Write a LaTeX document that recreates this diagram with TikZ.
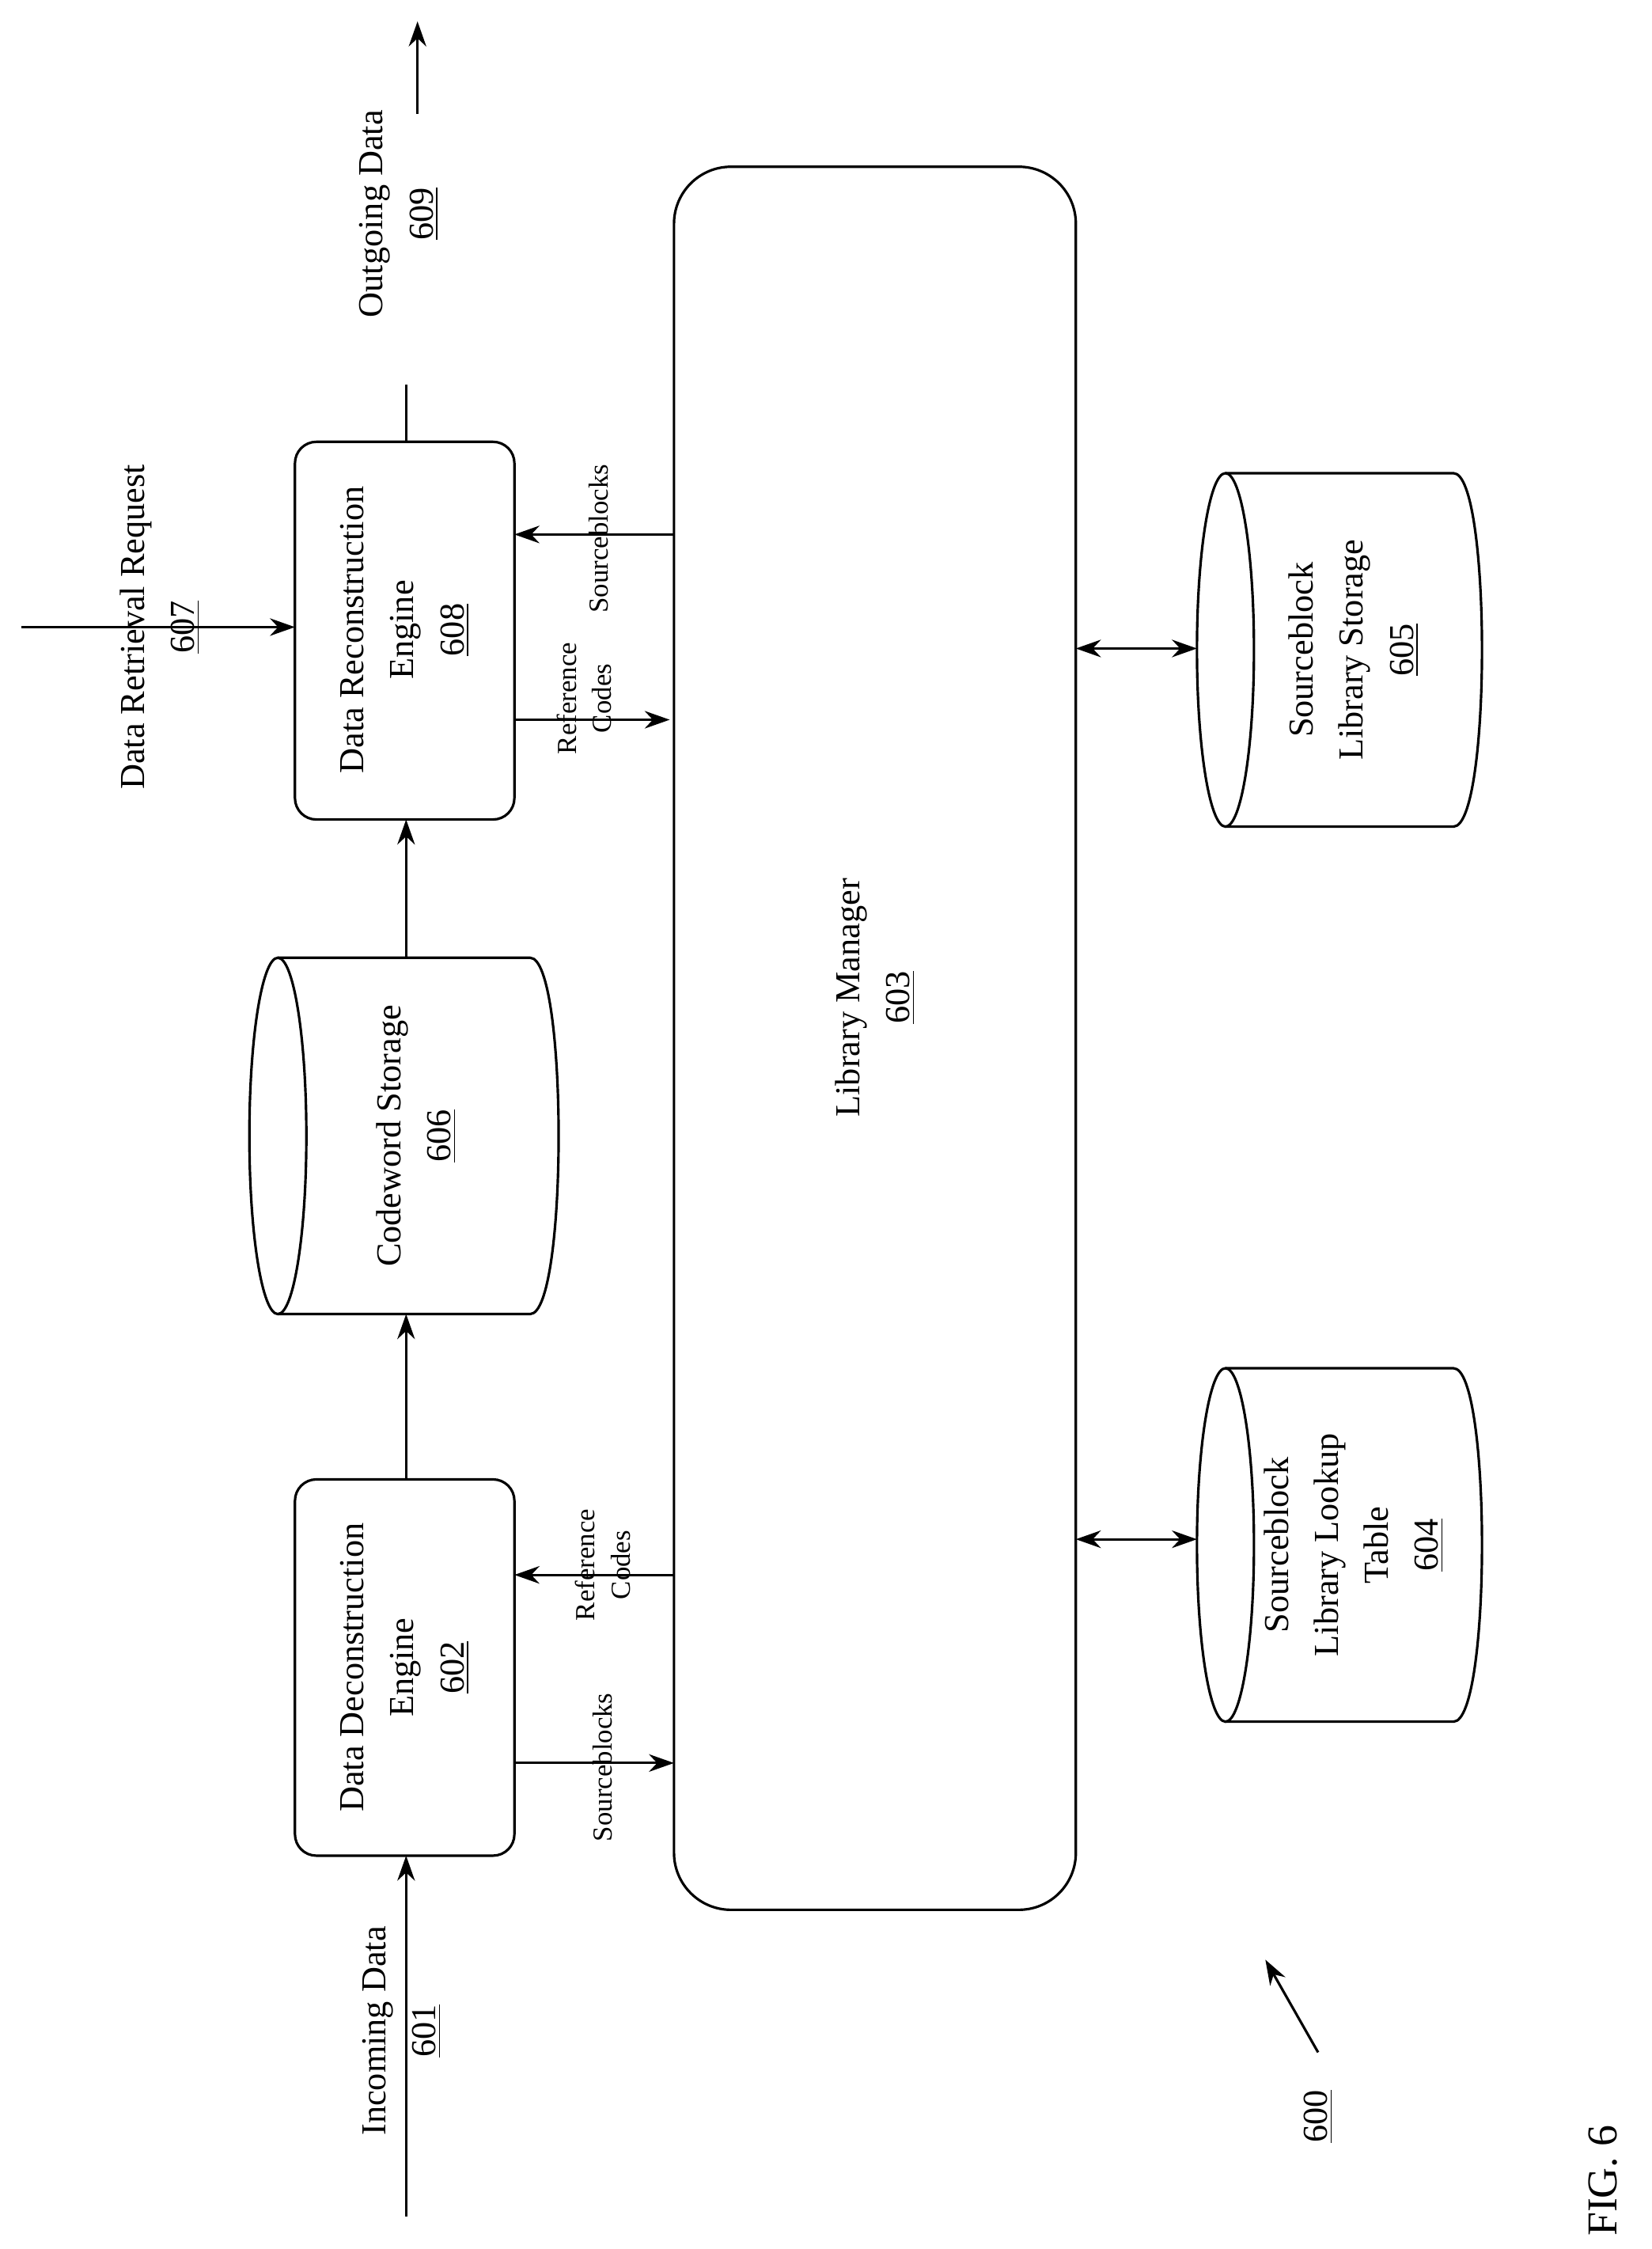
\documentclass[tikz,border=0pt]{standalone}
\usepackage{fontspec}
\setmainfont{Liberation Serif}
\usetikzlibrary{arrows.meta}
\begin{document}
\begin{tikzpicture}[x=0.02cm,y=-0.02cm,
  box/.style={draw,line width=1pt},
  lab/.style={rotate=90,align=center,font=\fontsize{14}{20}\selectfont},
  slab/.style={rotate=90,align=center,font=\fontsize{11}{14}\selectfont},
  arr/.style={line width=1pt,-{Stealth[length=10pt,width=7pt]}},
  darr/.style={line width=1pt,{Stealth[length=10pt,width=7pt]}-{Stealth[length=10pt,width=7pt]}},
  ln/.style={line width=1pt}]
\useasboundingbox (0,0) rectangle (1159,1578);
% Library manager
\draw[box,rounded corners=0.8cm] (473,117) rectangle (755,1340);
\node[lab] (lm) at (614,700) {Library Manager\\\underline{603}};
% engines
\draw[box,rounded corners=0.3cm] (207,1038) rectangle (361,1302);
\node[lab] (de) at (284,1170) {Data Deconstruction\\Engine\\\underline{602}};
\draw[box,rounded corners=0.3cm] (207,310) rectangle (361,575);
\node[lab] (re) at (284,442) {Data Reconstruction\\Engine\\\underline{608}};
% cylinders
\foreach \xa/\xb/\ya/\yb in {175/392/672/922, 840/1040/332/580, 840/1040/960/1208}{
  \draw[box] ({\xa+20},{(\ya+\yb)/2}) ellipse [x radius=20, y radius={(\yb-\ya)/2}];
  \draw[box] ({\xa+20},\ya) -- ({\xb-20},\ya) .. controls ({\xb+6.7},\ya) and ({\xb+6.7},\yb) .. ({\xb-20},\yb) -- ({\xa+20},\yb);
}
\node[lab] (cw) at (292,797) {Codeword Storage\\\underline{606}};
\node[lab] (sls) at (950,456) {Sourceblock\\Library Storage\\\underline{605}};
\node[lab] (slt) at (950,1084) {Sourceblock\\Library Lookup\\Table\\\underline{604}};
% coordinates
\coordinate (inS) at (285,1555); \coordinate (deB) at (285,1302);
\coordinate (deT) at (285,1038); \coordinate (cwB) at (285,922);
\coordinate (cwT) at (285,672); \coordinate (reB) at (285,575);
\coordinate (reT) at (285,310); \coordinate (outE) at (285,270);
\coordinate (drS) at (15,440); \coordinate (reL) at (207,440);
\coordinate (oa1) at (293,80); \coordinate (oa2) at (293,15);
\draw[arr] (inS) -- (deB);
\draw[arr] (deT) -- (cwB);
\draw[arr] (cwT) -- (reB);
\draw[arr] (drS) -- (reL);
\draw[ln] (reT) -- (outE);
\draw[arr] (oa1) -- (oa2);
\node[lab] (inl) at (282,1425) {Incoming Data\\\underline{601}};
\node[lab] (drl) at (112,440) {Data Retrieval Request\\\underline{607}};
\node[lab] (outl) at (280,150) {Outgoing Data\\\underline{609}};
% between engines and LM
\draw[arr] (473,375) -- (361,375);
\node[slab] at (420,378) {Sourceblocks};
\draw[arr] (361,505) -- (470,505);
\node[slab] at (410,490) {Reference\\Codes};
\draw[arr] (473,1105) -- (361,1105);
\node[slab] at (423,1098) {Reference\\Codes};
\draw[arr] (361,1237) -- (473,1237);
\node[slab] at (423,1240) {Sourceblocks};
\draw[darr] (755,455) -- (840,455);
\draw[darr] (755,1080) -- (840,1080);
% 600
\node[lab] (n600) at (925,1485) {\underline{600}};
\draw[arr] (925,1440) -- (888,1375);
\node[rotate=90,font=\fontsize{17}{20}\selectfont] (fig) at (1125,1530) {FIG. 6};
\end{tikzpicture}
\end{document}
